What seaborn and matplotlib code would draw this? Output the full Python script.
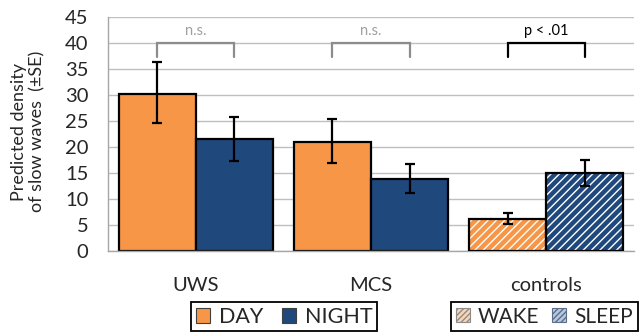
import matplotlib
matplotlib.use("Agg")
import matplotlib.pyplot as plt
from matplotlib.patches import Patch, Rectangle
import numpy as np
import pandas as pd
import seaborn as sns

# data
groups = ["UWS", "MCS", "controls"]
first_vals = [30.3, 21.0, 6.1]      # DAY (patients) / WAKE (controls)
second_vals = [21.5, 13.9, 14.9]    # NIGHT (patients) / SLEEP (controls)
first_lo = [24.7, 16.9, 5.1]
first_hi = [36.3, 25.3, 7.2]
second_lo = [17.3, 11.1, 12.5]
second_hi = [25.7, 16.7, 17.4]
sig_labels = ["n.s.", "n.s.", "p < .01"]
yticks = [0, 5, 10, 15, 20, 25, 30, 35, 40, 45]

orange = "#F79646"
navy = "#1F497D"

sns.set_style("white")
plt.rcParams["font.family"] = ["Lato", "DejaVu Sans"]
plt.rcParams["hatch.linewidth"] = 1.0

df = pd.DataFrame({
    "group": groups * 2,
    "slot": ["first"] * 3 + ["second"] * 3,
    "value": first_vals + second_vals,
    "lo": first_lo + second_lo,
    "hi": first_hi + second_hi,
})

fig = plt.figure(figsize=(6.39, 3.33), dpi=100)
W, H = 639, 333
ax = fig.add_axes([108 / W, 1 - 250.7 / H, (634 - 108) / W, (250.7 - 17.3) / H])

sns.barplot(data=df, x="group", y="value", hue="slot", order=groups,
            hue_order=["first", "second"], palette={"first": orange, "second": navy},
            saturation=1, width=0.88, errorbar=None, edgecolor="black", linewidth=1.6,
            legend=False, ax=ax, zorder=2)

# match bars to rows by position
bars = sorted(ax.patches, key=lambda p: p.get_x())
order_rows = []
for gi in range(len(groups)):
    order_rows.append((gi, "first"))
    order_rows.append((gi, "second"))
centers = {}
for bar, (gi, slot) in zip(bars, order_rows):
    row = df[(df.group == groups[gi]) & (df.slot == slot)].iloc[0]
    cx = bar.get_x() + bar.get_width() / 2
    centers[(gi, slot)] = cx
    ax.errorbar(cx, row.value, yerr=[[row.value - row.lo], [row.hi - row.value]],
                fmt="none", ecolor="black", elinewidth=1.6, capsize=3.5,
                capthick=1.6, zorder=4)
    if groups[gi] == "controls":
        # white stripes, then black outline on top
        bar.set_hatch("////")
        bar.set_edgecolor("white")
        bar.set_linewidth(0)
        ax.add_patch(Rectangle((bar.get_x(), 0), bar.get_width(), bar.get_height(),
                               fill=False, edgecolor="black", linewidth=1.6, zorder=3))

# significance brackets
for gi, lab in enumerate(sig_labels):
    col = "black" if lab.startswith("p") else "#8c8c8c"
    tcol = "black" if lab.startswith("p") else "#a0a0a0"
    x0, x1 = centers[(gi, "first")], centers[(gi, "second")]
    ax.plot([x0, x0, x1, x1], [37.4, 40, 40, 37.4], color=col, lw=1.6,
            solid_joinstyle="miter", zorder=5, clip_on=False)
    ax.text(gi, 41.0, lab, ha="center", va="bottom", fontsize=10.5, color=tcol)

ax.set_xlim(-0.5, 2.5)
ax.set_ylim(0, 45)
ax.set_yticks(yticks)
ax.set_xticks(range(len(groups)))
ax.set_xticklabels(groups)
ax.set_xticks([-0.5, 0.5, 1.5, 2.5], minor=True)
ax.set_xlabel("")
ax.set_ylabel("Predicted density\nof slow waves  (±SE)", fontsize=13,
              color="#262626", linespacing=1.25)
ax.yaxis.set_label_coords(-0.118, 0.51)

ax.yaxis.grid(True, color="#bfbfbf", lw=1.0)
ax.set_axisbelow(True)
for s in ["top", "right"]:
    ax.spines[s].set_visible(False)
for s in ["left", "bottom"]:
    ax.spines[s].set_color("#a6a6a6")
    ax.spines[s].set_linewidth(1.0)

ax.tick_params(axis="y", direction="out", length=6, color="#a6a6a6",
               labelsize=14.5, labelcolor="#262626", pad=8)
ax.tick_params(axis="x", which="major", length=0, labelsize=14.5,
               labelcolor="#262626", pad=19)
ax.tick_params(axis="x", which="minor", direction="out", length=6, color="#a6a6a6")

# legends
h1 = [Patch(facecolor=orange, edgecolor="#404040", lw=0.8),
      Patch(facecolor=navy, edgecolor="#404040", lw=0.8)]
h2 = [Patch(facecolor="#FBD5B5", edgecolor="#8c8c8c", hatch="//////", lw=0.8),
      Patch(facecolor="#B9C7DA", edgecolor="#5a6f8f", hatch="//////", lw=0.8)]
leg_kw = dict(ncol=2, handlelength=0.68, handleheight=0.68,
              handletextpad=0.4, borderpad=0.22,
              borderaxespad=0, fancybox=False, framealpha=1, labelcolor="#262626")
leg1 = fig.legend(h1, ["DAY", "NIGHT"], loc="upper left", fontsize=15.5,
                  columnspacing=0.85, bbox_to_anchor=(191 / W, 1 - 302 / H), **leg_kw)
leg2 = fig.legend(h2, ["WAKE", "SLEEP"], loc="upper left", fontsize=15,
                  columnspacing=0.6, bbox_to_anchor=(451 / W, 1 - 302 / H), **leg_kw)
for leg in (leg1, leg2):
    leg.get_frame().set_edgecolor("black")
    leg.get_frame().set_linewidth(1.3)

fig.savefig("out.png", dpi=100)
